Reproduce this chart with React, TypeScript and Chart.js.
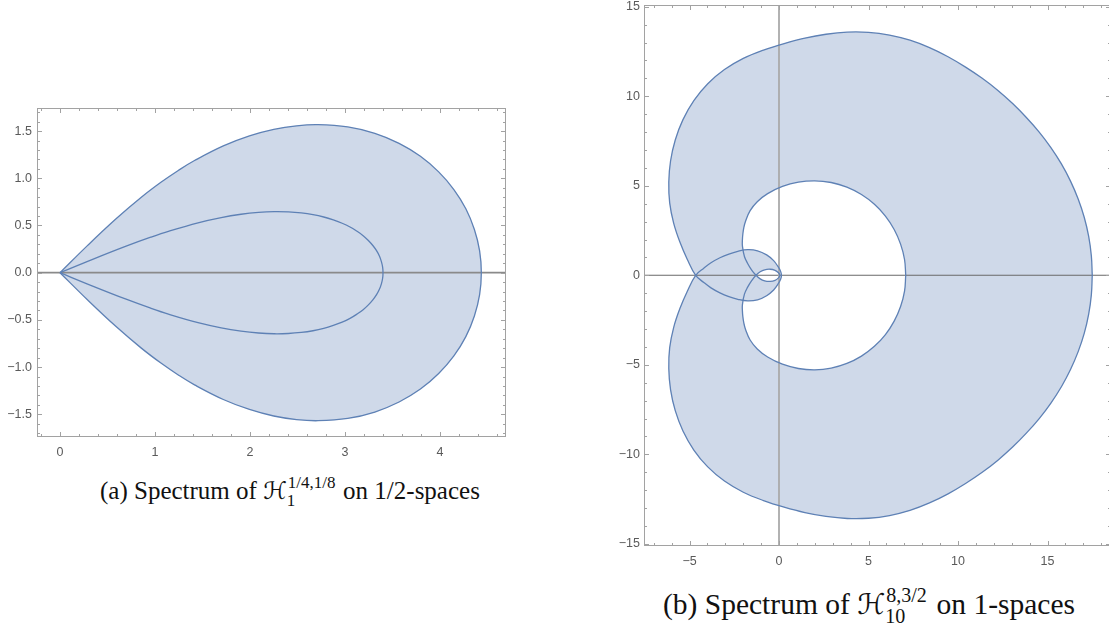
import React, { useEffect, useRef } from "react";
import { Chart, registerables } from "chart.js";

Chart.register(...registerables);

type Pt = [number, number];

// ---------------- Panel (a): spectrum on 1/2-spaces ----------------
const A_OUTER: Pt[] = [
  [0, 0], [0.294, 0.292], [0.596, 0.576], [0.856, 0.799], [1.066, 0.96], [1.249, 1.086],
  [1.416, 1.188], [1.719, 1.343], [1.994, 1.449], [2.25, 1.518], [2.49, 1.556], [2.716, 1.568],
  [3.029, 1.544], [3.314, 1.476], [3.569, 1.37], [3.794, 1.233], [3.986, 1.068], [4.146, 0.881],
  [4.272, 0.677], [4.362, 0.458], [4.417, 0.232], [4.435, 0],
  [4.417, -0.232], [4.362, -0.458], [4.272, -0.677], [4.146, -0.881], [3.986, -1.068],
  [3.794, -1.233], [3.569, -1.37], [3.314, -1.476], [3.029, -1.544], [2.716, -1.568],
  [2.49, -1.556], [2.25, -1.518], [1.994, -1.449], [1.719, -1.343], [1.416, -1.188],
  [1.249, -1.086], [1.066, -0.96], [0.856, -0.799], [0.596, -0.576], [0.294, -0.292], [0, 0],
];

const A_INNER: Pt[] = [
  [0, 0], [0.337, 0.139], [0.696, 0.281], [0.955, 0.376], [1.149, 0.441], [1.453, 0.529],
  [1.697, 0.584], [1.906, 0.619], [2.09, 0.639], [2.255, 0.647], [2.404, 0.644], [2.54, 0.633],
  [2.663, 0.615], [2.776, 0.59], [2.877, 0.559], [2.97, 0.524], [3.053, 0.484], [3.126, 0.439],
  [3.191, 0.392], [3.246, 0.341], [3.293, 0.288], [3.332, 0.233], [3.362, 0.176], [3.383, 0.118],
  [3.396, 0.059], [3.4, 0],
  [3.396, -0.059], [3.383, -0.118], [3.362, -0.176], [3.332, -0.233], [3.293, -0.288],
  [3.246, -0.341], [3.191, -0.392], [3.126, -0.439], [3.053, -0.484], [2.97, -0.524],
  [2.877, -0.559], [2.776, -0.59], [2.663, -0.615], [2.54, -0.633], [2.404, -0.644],
  [2.255, -0.647], [2.09, -0.639], [1.906, -0.619], [1.697, -0.584], [1.453, -0.529],
  [1.149, -0.441], [0.955, -0.376], [0.696, -0.281], [0.337, -0.139], [0, 0],
];

const A_X_TICKS = [0, 1, 2, 3, 4];
const A_X_LABELS = ["0", "1", "2", "3", "4"];
const A_Y_TICKS = [-1.5, -1, -0.5, 0, 0.5, 1, 1.5];
const A_Y_LABELS = ["\u22121.5", "\u22121.0", "\u22120.5", "0.0", "0.5", "1.0", "1.5"];

// ---------------- Panel (b): spectrum on 1-spaces ----------------
// outer boundary (clockwise, starting at its rightmost point, with its inner loop)
const B_OUTER: Pt[] = [
  [17.5, 0], [17.449, -1.089], [17.3, -2.169], [17.055, -3.23], [16.713, -4.263], [16.285, -5.262],
  [15.776, -6.222], [15.19, -7.135], [14.536, -8.001], [13.818, -8.818], [13.051, -9.595],
  [12.23, -10.325], [11.353, -11.003], [10.422, -11.628], [9.443, -12.207], [8.407, -12.716],
  [7.316, -13.132], [6.174, -13.419], [5.0, -13.57], [3.812, -13.583], [2.625, -13.467],
  [1.449, -13.253], [0.287, -12.949], [-0.866, -12.58], [-1.995, -12.116], [-3.047, -11.493],
  [-3.98, -10.702], [-4.758, -9.758], [-5.365, -8.697], [-5.796, -7.56], [-6.059, -6.385],
  [-6.157, -5.202], [-6.107, -4.043], [-5.886, -2.917], [-5.537, -1.858], [-5.121, -0.886],
  [-4.655, 0],
  [-4.2, 0.4], [-3.8, 0.7], [-3.3, 0.98], [-2.8, 1.19], [-2.3, 1.34], [-1.75, 1.43], [-1.2, 1.37],
  [-0.69, 1.14], [-0.3, 0.82], [-0.05, 0.48], [0.09, 0.22], [0.14, 0],
  [0.09, -0.22], [-0.05, -0.48], [-0.3, -0.82], [-0.69, -1.14], [-1.2, -1.37], [-1.75, -1.43],
  [-2.3, -1.34], [-2.8, -1.19], [-3.3, -0.98], [-3.8, -0.7], [-4.2, -0.4],
  [-4.655, 0],
  [-5.121, 0.886], [-5.537, 1.858], [-5.886, 2.917], [-6.107, 4.043], [-6.157, 5.202],
  [-6.059, 6.385], [-5.796, 7.56], [-5.365, 8.697], [-4.758, 9.758], [-3.98, 10.702],
  [-3.047, 11.493], [-1.995, 12.116], [-0.866, 12.58], [0.287, 12.949], [1.449, 13.253],
  [2.625, 13.467], [3.812, 13.583], [5.0, 13.57], [6.174, 13.419], [7.316, 13.132], [8.407, 12.716],
  [9.443, 12.207], [10.422, 11.628], [11.353, 11.003], [12.23, 10.325], [13.051, 9.595],
  [13.818, 8.818], [14.536, 8.001], [15.19, 7.135], [15.776, 6.222], [16.285, 5.262],
  [16.713, 4.263], [17.055, 3.23], [17.3, 2.169], [17.449, 1.089], [17.5, 0],
];

// inner boundary (counter-clockwise, starting at its rightmost point, with its small loop)
const B_INNER: Pt[] = [
  [7.08, 0], [7.013, 0.884], [6.792, 1.744], [6.434, 2.56], [5.945, 3.31], [5.33, 3.968],
  [4.605, 4.512], [3.792, 4.924], [2.914, 5.185], [2.0, 5.28], [1.082, 5.205], [0.192, 4.966],
  [-0.635, 4.564], [-1.214, 4.113], [-1.613, 3.613], [-1.869, 3.023], [-1.963, 2.673],
  [-2.018, 2.32], [-2.045, 1.973], [-2.043, 1.633], [-1.931, 1.053], [-1.752, 0.662],
  [-1.536, 0.309], [-1.285, 0],
  [-1.05, -0.2], [-0.8, -0.31], [-0.5, -0.34], [-0.22, -0.28], [-0.03, -0.14], [0.05, 0],
  [-0.03, 0.14], [-0.22, 0.28], [-0.5, 0.34], [-0.8, 0.31], [-1.05, 0.2],
  [-1.285, 0],
  [-1.536, -0.309], [-1.752, -0.662], [-1.931, -1.053], [-2.043, -1.633], [-2.045, -1.973],
  [-2.018, -2.32], [-1.963, -2.673], [-1.869, -3.023], [-1.613, -3.613], [-1.214, -4.113],
  [-0.635, -4.564], [0.192, -4.966], [1.082, -5.205], [2.0, -5.28], [2.914, -5.185],
  [3.792, -4.924], [4.605, -4.512], [5.33, -3.968], [5.945, -3.31], [6.434, -2.56],
  [6.792, -1.744], [7.013, -0.884], [7.08, 0],
];

const B_X_TICKS = [-5, 0, 5, 10, 15];
const B_X_LABELS = ["\u22125", "0", "5", "10", "15"];
const B_Y_TICKS = [-15, -10, -5, 0, 5, 10, 15];
const B_Y_LABELS = ["\u221215", "\u221210", "\u22125", "0", "5", "10", "15"];

// ---------------- styling ----------------
const FILL = "rgb(207,217,233)";
const LINE = "#5e81b5";
const FRAME = "#a2a2a2";
const LABEL = "#5a5a5a";
const TICK_FONT = { family: "'Liberation Sans', Arial, sans-serif", size: 12.5 };
const SERIF = "'Liberation Serif', 'DejaVu Serif', serif";

interface PanelSpec {
  left: number;
  top: number;
  w: number;
  h: number;
  curves: { pts: Pt[]; fill: boolean }[];
  xMin: number;
  xMax: number;
  yMin: number;
  yMax: number;
  xTicks: number[];
  xLabels: string[];
  yTicks: number[];
  yLabels: string[];
  xMinorStep: number;
  yMinorStep: number;
  yAxisWidth: number;
  xAxisHeight: number;
  padding: { top: number; right: number; left: number; bottom: number };
  xTickPad: number;
  yTickPad: number;
  hAxis?: { color: string; width: number };
  vAxis?: { color: string; width: number };
}

const PANEL_A: PanelSpec = {
  left: 0,
  top: 95,
  w: 520,
  h: 365,
  curves: [
    { pts: A_OUTER, fill: true },
    { pts: A_INNER, fill: false },
  ],
  xMin: -0.2421,
  xMax: 4.6947,
  yMin: -1.7405,
  yMax: 1.7447,
  xTicks: A_X_TICKS,
  xLabels: A_X_LABELS,
  yTicks: A_Y_TICKS,
  yLabels: A_Y_LABELS,
  xMinorStep: 0.2,
  yMinorStep: 0.1,
  yAxisWidth: 37,
  xAxisHeight: 23,
  padding: { top: 13, right: 14, left: 0, bottom: 0 },
  xTickPad: 8,
  yTickPad: 5,
  hAxis: { color: "rgb(138,138,138)", width: 1.8 },
};

const PANEL_B: PanelSpec = {
  left: 600,
  top: -10,
  w: 515,
  h: 575,
  curves: [
    { pts: B_OUTER, fill: true },
    { pts: B_INNER, fill: true },
  ],
  xMin: -7.542,
  xMax: 18.547,
  yMin: -15.12,
  yMax: 15.1,
  xTicks: B_X_TICKS,
  xLabels: B_X_LABELS,
  yTicks: B_Y_TICKS,
  yLabels: B_Y_LABELS,
  xMinorStep: 1,
  yMinorStep: 1,
  yAxisWidth: 44,
  xAxisHeight: 19,
  padding: { top: 15, right: 4, left: 0, bottom: 0 },
  xTickPad: 8,
  yTickPad: 4,
  hAxis: { color: "rgb(105,105,105)", width: 1.1 },
  vAxis: { color: "rgb(170,170,170)", width: 1.8 },
};

function minorValues(min: number, max: number, step: number, majors: number[]): number[] {
  const out: number[] = [];
  const start = Math.ceil(min / step - 1e-9);
  for (let k = start; k * step <= max + 1e-9; k++) {
    const v = k * step;
    if (majors.some((m) => Math.abs(m - v) < step * 0.01)) continue;
    out.push(v);
  }
  return out;
}

function decoPlugin(spec: PanelSpec) {
  return {
    id: "panelDeco",
    beforeDatasetsDraw(chart: any) {
      const { ctx, chartArea: a } = chart;
      const xs = chart.scales.x;
      const ys = chart.scales.y;
      ctx.save();
      ctx.beginPath();
      ctx.rect(a.left, a.top, a.right - a.left, a.bottom - a.top);
      ctx.clip();
      // filled spectrum region (nonzero winding of all filled boundaries)
      ctx.beginPath();
      chart.data.datasets.forEach((ds: any, i: number) => {
        if (!ds.regionFill) return;
        const line = chart.getDatasetMeta(i).dataset;
        if (line && typeof line.path === "function") {
          if (typeof line.updateControlPoints === "function") line.updateControlPoints(a, "x");
          line.path(ctx);
        } else {
          ds.data.forEach((p: any, k: number) => {
            const px = xs.getPixelForValue(p.x);
            const py = ys.getPixelForValue(p.y);
            if (k === 0) ctx.moveTo(px, py);
            else ctx.lineTo(px, py);
          });
        }
        ctx.closePath();
      });
      ctx.fillStyle = FILL;
      ctx.fill("nonzero");
      // zero axes
      if (spec.hAxis) {
        const y0 = ys.getPixelForValue(0);
        ctx.beginPath();
        ctx.moveTo(a.left, y0);
        ctx.lineTo(a.right, y0);
        ctx.strokeStyle = spec.hAxis.color;
        ctx.lineWidth = spec.hAxis.width;
        ctx.stroke();
      }
      if (spec.vAxis) {
        const x0 = xs.getPixelForValue(0);
        ctx.beginPath();
        ctx.moveTo(x0, a.top);
        ctx.lineTo(x0, a.bottom);
        ctx.strokeStyle = spec.vAxis.color;
        ctx.lineWidth = spec.vAxis.width;
        ctx.stroke();
      }
      ctx.restore();
    },
    afterDatasetsDraw(chart: any) {
      const { ctx, chartArea: a } = chart;
      const xs = chart.scales.x;
      const ys = chart.scales.y;
      ctx.save();
      ctx.strokeStyle = FRAME;
      ctx.lineWidth = 1;
      const L = Math.round(a.left) + 0.5;
      const R = Math.round(a.right) - 0.5;
      const T = Math.round(a.top) + 0.5;
      const B = Math.round(a.bottom) - 0.5;
      ctx.strokeRect(L, T, R - L, B - T);
      const MAJ = 4.5;
      const MIN = 2.5;
      ctx.beginPath();
      const xMin = minorValues(spec.xMin, spec.xMax, spec.xMinorStep, spec.xTicks);
      const yMin = minorValues(spec.yMin, spec.yMax, spec.yMinorStep, spec.yTicks);
      const xt = (v: number, len: number) => {
        const px = Math.round(xs.getPixelForValue(v)) + 0.5;
        ctx.moveTo(px, B);
        ctx.lineTo(px, B - len);
        ctx.moveTo(px, T);
        ctx.lineTo(px, T + len);
      };
      const yt = (v: number, len: number) => {
        const py = Math.round(ys.getPixelForValue(v)) + 0.5;
        ctx.moveTo(L, py);
        ctx.lineTo(L + len, py);
        ctx.moveTo(R, py);
        ctx.lineTo(R - len, py);
      };
      spec.xTicks.forEach((v) => xt(v, MAJ));
      xMin.forEach((v) => xt(v, MIN));
      spec.yTicks.forEach((v) => yt(v, MAJ));
      yMin.forEach((v) => yt(v, MIN));
      ctx.stroke();
      ctx.restore();
    },
  };
}

function buildConfig(spec: PanelSpec): any {
  return {
    type: "scatter",
    data: {
      datasets: spec.curves.map((c) => ({
        data: c.pts.map(([x, y]) => ({ x, y })),
        showLine: true,
        borderColor: LINE,
        borderWidth: 1.3,
        pointRadius: 0,
        pointHoverRadius: 0,
        tension: 0.4,
        fill: false,
        regionFill: c.fill,
      })),
    },
    options: {
      responsive: false,
      animation: false,
      events: [],
      layout: { padding: spec.padding },
      plugins: {
        legend: { display: false },
        tooltip: { enabled: false },
        title: { display: false },
      },
      scales: {
        x: {
          type: "linear",
          min: spec.xMin,
          max: spec.xMax,
          afterFit: (s: any) => {
            s.height = spec.xAxisHeight;
          },
          afterBuildTicks: (s: any) => {
            s.ticks = spec.xTicks.map((v) => ({ value: v }));
          },
          grid: { display: false, drawTicks: false },
          border: { display: false },
          ticks: {
            autoSkip: false,
            maxRotation: 0,
            minRotation: 0,
            includeBounds: false,
            padding: spec.xTickPad,
            color: LABEL,
            font: TICK_FONT,
            callback: (_v: any, i: number) => spec.xLabels[i],
          },
        },
        y: {
          type: "linear",
          min: spec.yMin,
          max: spec.yMax,
          afterFit: (s: any) => {
            s.width = spec.yAxisWidth;
          },
          afterBuildTicks: (s: any) => {
            s.ticks = spec.yTicks.map((v) => ({ value: v }));
          },
          grid: { display: false, drawTicks: false },
          border: { display: false },
          ticks: {
            autoSkip: false,
            includeBounds: false,
            padding: spec.yTickPad,
            color: LABEL,
            font: TICK_FONT,
            callback: (_v: any, i: number) => spec.yLabels[i],
          },
        },
      },
    },
    plugins: [decoPlugin(spec)],
  };
}

function Panel({ spec }: { spec: PanelSpec }) {
  const ref = useRef<HTMLCanvasElement>(null);
  useEffect(() => {
    if (!ref.current) return;
    const chart = new Chart(ref.current, buildConfig(spec));
    return () => chart.destroy();
  }, [spec]);
  return (
    <canvas
      ref={ref}
      width={spec.w}
      height={spec.h}
      style={{ position: "absolute", left: spec.left, top: spec.top, width: spec.w, height: spec.h }}
    />
  );
}

function Caption(props: {
  left: number;
  top: number;
  size: number;
  tag: string;
  sup: string;
  sub: string;
  scriptWidth: number;
  rest: string;
}) {
  const { left, top, size, tag, sup, sub, scriptWidth, rest } = props;
  const k = size / 25;
  const small = 17 * k;
  return (
    <div
      style={{
        position: "absolute",
        left,
        top,
        whiteSpace: "nowrap",
        fontFamily: SERIF,
        fontSize: size,
        lineHeight: `${Math.round(30 * k)}px`,
        color: "#111",
      }}
    >
      {tag} Spectrum of{" "}
      <span style={{ fontFamily: "'DejaVu Serif', 'DejaVu Sans', serif", fontSize: 24 * k }}>{"\u210B"}</span>
      <span style={{ display: "inline-block", position: "relative", width: scriptWidth, height: 1 }}>
        <span style={{ position: "absolute", left: 1, bottom: 8 * k, fontSize: small, lineHeight: `${small}px` }}>
          {sup}
        </span>
        <span style={{ position: "absolute", left: 0, top: -6 * k, fontSize: small, lineHeight: `${small}px` }}>
          {sub}
        </span>
      </span>{" "}
      {rest}
    </div>
  );
}

export default function App() {
  return (
    <div
      style={{
        position: "absolute",
        left: 0,
        top: 0,
        width: 1109,
        height: 628,
        overflow: "hidden",
        background: "#fff",
      }}
    >
      <Panel spec={PANEL_A} />
      <Panel spec={PANEL_B} />
      <Caption left={100} top={476} size={25} tag="(a)" sup="1/4,1/8" sub="1" scriptWidth={50} rest="on 1/2-spaces" />
      <Caption left={663} top={587} size={29.5} tag="(b)" sup="8,3/2" sub="10" scriptWidth={44} rest="on 1-spaces" />
    </div>
  );
}
